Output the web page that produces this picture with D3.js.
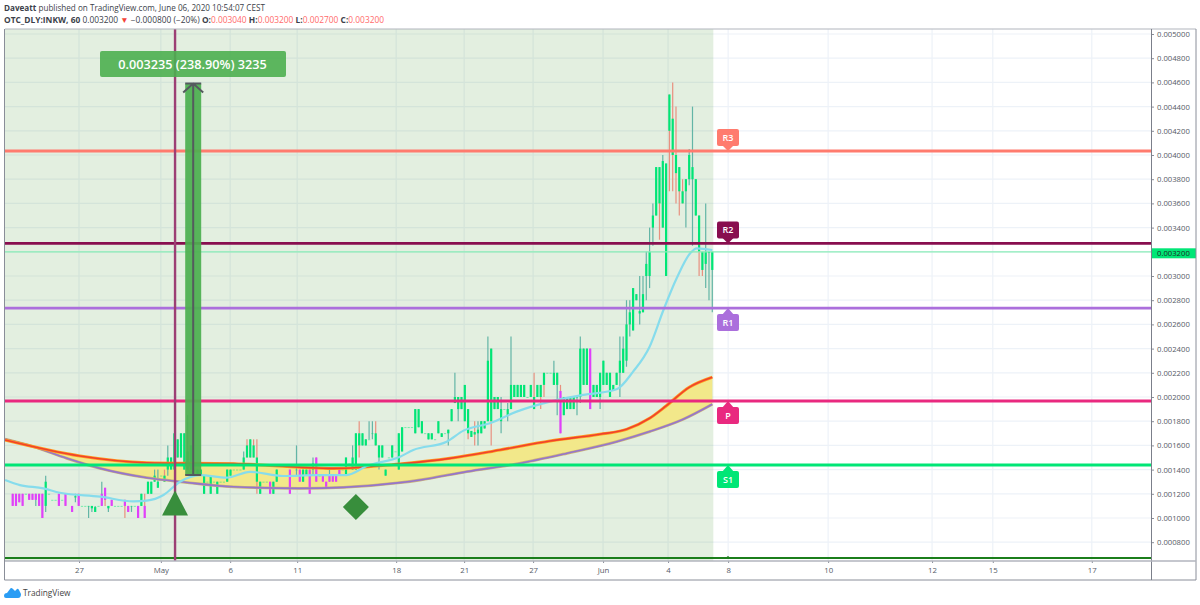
<!DOCTYPE html>
<html>
<head>
  <meta charset="utf-8">
  <script src="https://d3js.org/d3.v7.min.js"></script>
  <style>
    html, body { margin: 0; padding: 0; background: #fff; }
    text { font-family: "Open Sans", "Noto Sans", sans-serif; }
  </style>
</head>
<body>
  <svg id="chart"></svg>
  <script>
    // prices are in millionths, bars are [open, close, low, high, signal]
    var aprilBars = [
      [1200,1100,1100,1200,1],[1200,1100,1100,1200,1],[1200,1130,1130,1200,1],[1200,1100,1100,1200,1],[1200,1200,1200,1200],
      [1200,1150,1150,1200,1],[1200,1150,1150,1200,1],[1150,1200,1100,1200,1],[1200,1100,1100,1200,1],[1200,1000,1000,1200,1],
      [1100,1300,1050,1350],[1200,1200,1200,1200],[1150,1150,1150,1150],[1150,1150,1150,1150],[1200,1100,1100,1200,1],
      [1150,1150,1150,1150],[1200,1100,1100,1200,1],[1200,1200,1200,1200],[1100,1050,1050,1100,1],[1170,1180,1130,1200],
      [1200,1100,1100,1200,1],[1100,1100,1100,1100],[1100,1100,1100,1100],[1100,1100,1000,1100],[1080,1100,1050,1100],
      [1050,1090,1050,1100],[1100,1100,1100,1100],[1100,1200,1100,1300,1],[1250,1150,1100,1250,1],[1080,1100,1050,1100],
      [1150,1100,1100,1150,1],[1100,1100,1100,1100],[1100,1100,1100,1100],[1100,1100,1100,1100],[1150,1100,1000,1150,1],
      [1100,1050,1050,1100,1],[1100,1100,1050,1100],[1100,1100,1100,1100],[1100,1000,1000,1100,1],[1100,1200,1100,1200],
      [1100,1000,1000,1200,1],[1200,1300,1200,1300],[1200,1300,1200,1300],[1300,1350,1300,1400],[1250,1300,1250,1400]
    ];
    var mayBars = [
      [1350,1350,1350,1350],[1350,1300,1300,1400],[1400,1500,1350,1600],[1400,1500,1400,1500],[1400,1700,1400,1700],
      [1650,1500,1500,1650],[1500,1700,1500,1700],[1400,1700,1400,1700],[1400,1550,1400,1850],[1400,1600,1400,1600],
      [1400,1400,1400,1400],[1350,1400,1350,1400],[1350,1400,1350,1400],[1200,1350,1200,1350],[1300,1300,1300,1300],
      [1200,1350,1200,1350],[1300,1300,1300,1300],[1200,1300,1200,1300],[1300,1300,1300,1300],[1300,1300,1300,1300],
      [1300,1400,1300,1400],[1350,1400,1350,1400],[1400,1400,1400,1400],[1400,1400,1400,1400],[1400,1400,1400,1400],
      [1400,1500,1400,1550],[1600,1500,1500,1650],[1650,1500,1500,1650],[1600,1500,1500,1650],[1500,1300,1200,1650],
      [1200,1300,1200,1300],[1300,1300,1300,1300],[1300,1300,1300,1300],[1300,1200,1200,1300,1],[1200,1300,1200,1300],
      [1300,1400,1300,1400],[1350,1350,1350,1350],[1350,1350,1350,1350],[1350,1350,1350,1350],[1400,1200,1200,1400,1],
      [1350,1350,1350,1350],[1400,1400,1350,1600],[1400,1300,1300,1400,1],[1300,1400,1300,1400],[1350,1400,1350,1400],
      [1400,1200,1200,1400,1],[1400,1450,1350,1500],[1500,1300,1300,1500,1],[1350,1350,1350,1350],[1350,1300,1300,1350,1],
      [1300,1250,1250,1300,1],[1300,1350,1300,1400,1],[1350,1300,1300,1350,1],[1350,1300,1300,1350,1],[1400,1350,1350,1400,1],
      [1400,1400,1400,1400],[1350,1500,1350,1500],[1450,1450,1450,1450],[1400,1500,1400,1600],[1400,1700,1400,1700],
      [1700,1600,1500,1800],[1600,1700,1600,1700],[1600,1650,1600,1650],[1650,1650,1650,1800],[1700,1700,1650,1800],
      [1700,1600,1600,1800],[1500,1600,1400,1600],[1500,1600,1500,1600],[1350,1400,1350,1400],[1500,1500,1500,1500],
      [1500,1600,1500,1600],[1550,1550,1550,1550],[1400,1700,1400,1700],[1550,1750,1550,1750],[1750,1750,1750,1750],
      [1750,1750,1750,1750],[1750,1750,1750,1750],[1700,1900,1700,1900],[1750,1900,1750,1900],[1700,1800,1700,1800],
      [1700,1700,1700,1700],[1650,1700,1650,1700],[1650,1700,1650,1700],[1650,1650,1650,1650],[1700,1800,1700,1800],
      [1670,1700,1670,1700],[1700,1700,1700,1700],[1700,1730,1600,1730],[1800,1900,1800,1900],[1950,2000,1950,2200],
      [1900,2000,1800,2000],[1900,2000,1900,2000],[1800,2100,1800,2100],[1900,1700,1650,1900],[1670,1720,1670,1720],
      [1710,1690,1600,1800],[1700,1730,1600,1800],[1700,1800,1700,1800],[1740,1800,1740,1800],[1800,2300,1800,2500],
      [2400,1800,1600,2400],[1900,2000,1900,2000],[1900,2000,1900,2000],[1800,1900,1700,2000],[1900,1900,1900,1900],
      [1850,1900,1800,1950],[1900,2100,1900,2500],[2000,2100,2000,2100],[2000,2100,2000,2100],[2000,2100,2000,2100],
      [2000,2100,2000,2100],[2000,2000,2000,2000],[2000,2100,2000,2100],[2000,1900,1900,2200],[2000,2100,2000,2100],
      [2100,2000,1900,2100],[2200,2100,2000,2200],[2200,2200,2200,2200],[2200,2200,2200,2200],[2100,2200,2100,2300],
      [2100,2200,1850,2200],[2050,1700,1700,2100,1],[1850,2000,1850,2000],[1900,2000,1900,2000],[1900,2000,1900,2000],
      [1900,2000,1900,2000],[2000,2000,1850,2000],[2000,2400,1950,2500],[2100,2400,2100,2400],[2100,2400,2100,2400],
      [2400,1900,1900,2400,1],[2000,2100,2000,2100],[2000,2100,2000,2100],[2000,2200,1900,2200]
    ];
    var juneBars = [
      [2100,2300,2100,2300],[2100,2200,2100,2200],[2000,2200,2000,2200],[2050,2100,2050,2100],[2100,2200,2100,2200],
      [2200,2300,2000,2500],[2200,2400,2200,2500],[2300,2600,2250,2800],[2600,2700,2500,2800],[2550,2900,2550,2900],
      [2800,2850,2800,2850],[2690,2710,2600,3000],[2700,2850,2700,3000],[3000,3100,2800,3200],[3000,3200,2900,3400],
      [3400,3500,3250,3600],[3500,3900,3500,3900],[3900,3600,3300,3900],[3400,3950,3400,4000],[3000,3930,3000,3930],
      [4500,4200,3700,4500],[4300,4000,3700,4600],[4000,3850,3600,4400],[3900,3700,3500,3900],[3700,3600,3600,3800],
      [3700,3800,3400,3800],[3800,4000,3750,4050],[3800,3900,3250,4400],[3500,3800,3500,3800],[3500,3200,3000,3500],
      [3200,3050,3000,3200],[3100,3200,2900,3600],[3190,3200,2800,3200],[3050,3200,2700,3200]
    ];

    // slow average (red) and its lagging pair (purple), [bar, price]
    var upperBand = [[-2.3,1644],[20.4,1512],[40.6,1457],[66.9,1449],[97.2,1410],[117.4,1447],[132.5,1493],[147.6,1562],[162.8,1637],[177.9,1692],[186,1733],[193,1824],[198,1926],[205,2080],[212,2163]];
    var lowerBand = [[-2.3,1652],[6.3,1589],[16.4,1493],[26.5,1410],[40.6,1333],[51.7,1297],[66.9,1258],[87,1245],[100.2,1253],[117.4,1292],[123.4,1314],[137.6,1383],[152.7,1447],[168,1535],[183,1631],[193,1714],[203.2,1816],[212,1940]];
    var fastLine = [[-2.3,1314],[2.2,1272],[9.3,1245],[14.3,1209],[26.5,1176],[36.6,1137],[40.6,1143],[45.7,1190],[50.7,1300],[56.8,1355],[64.8,1333],[71.9,1382],[82,1347],[92.1,1355],[101.2,1355],[107.3,1429],[117.4,1507],[121.4,1562],[131.5,1631],[136.6,1722],[144.6,1783],[152.7,1879],[162.8,1962],[172.9,2017],[183,2064],[188,2210],[193,2416],[197.2,2719],[201.2,2981],[205.3,3188],[207.3,3229],[212,3215]];

    var levelNames = ["R3", "R2", "R1", "P", "S1", ""];
    var levelPrices = [4033, 3269, 2735, 1967, 1438, 670];
    var levelColors = ["#ff7b6e", "#880e4f", "#ab6fdc", "#e9297f", "#00e676", "#1b7e1b"];
    var levelFlagUp = [false, false, true, true, true, true];

    var priceTicks = [5000,4800,4600,4400,4200,4000,3800,3600,3400,3200,3000,2800,2600,2400,2200,2000,1800,1600,1400,1200,1000,800];
    var timeTickBars = [20.1,44.9,65.9,86.2,116.2,136.8,157.7,178.9,198.6,216.8,247.1,278.6,297,327];
    var timeTickLabels = ["27","May","6","11","18","21","27","Jun","4","8","10","12","15","17"];

    var lastPrice = 3200;
    var signalBar = 49.2;
    var arrowFrom = [54.7, 1355];
    var arrowTo = [54.7, 4590];
    var arrowLabel = "0.003235 (238.90%) 3235";
    var triangleMark = [49.2, 1120];
    var diamondMark = [104, 1090];

    var bars = aprilBars.concat(mayBars, juneBars);

    var width = 1200, height = 605;
    var plot = { left: 5, right: 1151, top: 29, bottom: 561 };
    var outerRight = 1196, outerBottom = 580;

    var xScale = d3.scaleLinear().domain([-2.33, 344.94]).range([plot.left, plot.right]);
    var yScale = d3.scaleLinear().domain([800, 5000]).range([542.2, 34]);

    var svg = d3.select("#chart").attr("width", width).attr("height", height)
                .style("display", "block");

    // header
    var head = svg.append("g").attr("fill", "#3c3f4a");
    var line1 = head.append("text").attr("x", 4).attr("y", 10.5).attr("font-size", 8.15);
    line1.append("tspan").attr("font-weight", 700).text("Daveatt");
    line1.append("tspan").text(" published on TradingView.com, June 06, 2020 10:54:07 CEST");
    var line2 = head.append("text").attr("x", 4).attr("y", 23).attr("font-size", 8.4);
    line2.append("tspan").attr("font-weight", 700).text("OTC_DLY:INKW, 60");
    line2.append("tspan").text(" 0.003200 ");
    line2.append("tspan").attr("fill", "#f44336").text("▼");
    line2.append("tspan").text(" −0.000800 (−20%) ");
    [["O:", "0.003040"], ["H:", "0.003200"], ["L:", "0.002700"], ["C:", "0.003200"]].forEach(function(d, i) {
      line2.append("tspan").attr("font-weight", 700).text((i ? " " : "") + d[0]);
      line2.append("tspan").attr("fill", "#ff6b6b").text(d[1]);
    });

    // grid
    var grid = svg.append("g").attr("stroke", "#edf2f8").attr("stroke-width", 1.2);
    grid.selectAll("line.h").data(priceTicks).enter().append("line")
        .attr("x1", plot.left).attr("x2", plot.right)
        .attr("y1", yScale).attr("y2", yScale);
    grid.selectAll("line.v").data(timeTickBars).enter().append("line")
        .attr("x1", xScale).attr("x2", xScale)
        .attr("y1", plot.top).attr("y2", plot.bottom);

    // shaded session up to the last bar
    svg.append("rect")
       .attr("x", plot.left).attr("y", plot.top)
       .attr("width", xScale(bars.length - 1) + 1 - plot.left)
       .attr("height", plot.bottom - plot.top)
       .attr("fill", "#4f9a3c").attr("fill-opacity", 0.16);

    var line = d3.line()
                 .x(function(d) { return xScale(d[0]); })
                 .y(function(d) { return yScale(d[1]); })
                 .curve(d3.curveMonotoneX);

    // band fill
    var bandD = line(upperBand) + "L" + line(lowerBand.slice().reverse()).slice(1) + "Z";
    svg.append("path").attr("d", bandD).attr("fill", "#f2e88a");

    // bars
    var barG = svg.append("g");
    barG.selectAll("line.wick").data(bars).enter().append("line")
        .attr("x1", function(d, i) { return xScale(i); })
        .attr("x2", function(d, i) { return xScale(i); })
        .attr("y1", function(d) { return yScale(d[3]); })
        .attr("y2", function(d) { return yScale(d[2]); })
        .attr("stroke", function(d) { return d[1] < d[0] ? "#e8907f" : "#63b5a6"; })
        .attr("stroke-width", 1.2);
    barG.selectAll("rect.body").data(bars).enter().append("rect")
        .attr("x", function(d, i) { return xScale(i) - 1.1; })
        .attr("width", 2.2)
        .attr("y", function(d) { return yScale(Math.max(d[0], d[1])); })
        .attr("height", function(d) { return Math.max(0.8, Math.abs(yScale(d[0]) - yScale(d[1]))); })
        .attr("fill", function(d) { return d[4] ? "#e040fb" : "#00e676"; })
        .attr("fill-opacity", function(d) { return d[0] === d[1] ? 0.6 : 1; });

    // band outlines and fast average
    svg.append("path").attr("d", line(lowerBand)).attr("fill", "none").attr("stroke", "#c9b27a").attr("stroke-width", 2.8);
    svg.append("path").attr("d", line(lowerBand)).attr("fill", "none").attr("stroke", "#9575cd").attr("stroke-width", 1.6);
    svg.append("path").attr("d", line(upperBand)).attr("fill", "none").attr("stroke", "#ff9a1f").attr("stroke-width", 3);
    svg.append("path").attr("d", line(upperBand)).attr("fill", "none").attr("stroke", "#f0412d").attr("stroke-width", 1.6);
    svg.append("path").attr("d", line(fastLine)).attr("fill", "none").attr("stroke", "#86dcec").attr("stroke-width", 2.2);

    // last price
    svg.append("line")
       .attr("x1", plot.left).attr("x2", plot.right)
       .attr("y1", yScale(lastPrice)).attr("y2", yScale(lastPrice))
       .attr("stroke", "#8aedb8").attr("stroke-width", 1.3);

    // pivot levels
    svg.selectAll("line.level").data(levelPrices).enter().append("line")
       .attr("x1", plot.left).attr("x2", plot.right)
       .attr("y1", yScale).attr("y2", yScale)
       .attr("stroke", function(d, i) { return levelColors[i]; })
       .attr("stroke-width", function(d, i) { return i === 5 ? 2 : 2.8; });

    // level flags, pointing at the line
    var flagX = 728, flagW = 22, flagH = 17, flagTip = 4;
    levelPrices.forEach(function(p, i) {
      var y = yScale(p), up = levelFlagUp[i];
      if (!levelNames[i]) {
        svg.append("path").attr("d", "M" + (flagX - 4) + " " + (y + 1) + "L" + flagX + " " + (y - 2) + "L" + (flagX + 4) + " " + (y + 1) + "Z")
           .attr("fill", levelColors[i]);
        return;
      }
      var top = up ? y + flagTip + 2 : y - flagTip - flagH - 1;
      var g = svg.append("g");
      g.append("rect").attr("x", flagX - flagW / 2).attr("y", top).attr("width", flagW).attr("height", flagH)
       .attr("rx", 2).attr("fill", levelColors[i]);
      g.append("path").attr("fill", levelColors[i])
       .attr("d", "M" + (flagX - 6) + " " + (up ? top + 1 : top + flagH - 1) + "L" + flagX + " " + y + "L" + (flagX + 6) + " " + (up ? top + 1 : top + flagH - 1) + "Z");
      g.append("text").attr("x", flagX).attr("y", top + 12).attr("text-anchor", "middle")
       .attr("font-size", 9).attr("font-weight", 600).attr("fill", "#fff").text(levelNames[i]);
    });

    // vertical signal line
    svg.append("line")
       .attr("x1", xScale(signalBar)).attr("x2", xScale(signalBar))
       .attr("y1", plot.top).attr("y2", plot.bottom)
       .attr("stroke", "#9c3f74").attr("stroke-width", 2.4);

    // price range tool
    var ax = xScale(arrowFrom[0]), ay0 = yScale(arrowFrom[1]), ay1 = yScale(arrowTo[1]);
    svg.append("rect").attr("x", ax - 8).attr("y", ay1).attr("width", 16).attr("height", ay0 - ay1)
       .attr("fill", "#4caf50").attr("fill-opacity", 0.93);
    svg.append("path")
       .attr("d", "M" + ax + " " + ay0 + "V" + ay1 + "M" + (ax - 10) + " " + (ay1 + 9) + "L" + ax + " " + ay1 + "L" + (ax + 10) + " " + (ay1 + 9)
                + "M" + (ax - 8) + " " + ay1 + "H" + (ax + 8) + "M" + (ax - 8) + " " + ay0 + "H" + (ax + 8))
       .attr("fill", "none").attr("stroke", "#555a5e").attr("stroke-width", 2);
    svg.append("rect").attr("x", 100).attr("y", 51).attr("width", 186).attr("height", 26).attr("rx", 2)
       .attr("fill", "#4caf50").attr("fill-opacity", 0.9);
    svg.append("text").attr("x", 192.5).attr("y", 68.5).attr("text-anchor", "middle")
       .attr("font-size", 12.7).attr("font-weight", 600).attr("fill", "#fff").text(arrowLabel);

    // markers
    svg.append("path")
       .attr("transform", "translate(" + xScale(triangleMark[0]) + "," + yScale(triangleMark[1]) + ")")
       .attr("d", "M0 -13L13 12H-13Z").attr("fill", "#388e3c");
    svg.append("path")
       .attr("transform", "translate(" + xScale(diamondMark[0]) + "," + yScale(diamondMark[1]) + ")")
       .attr("d", "M0 -13L13 0L0 13L-13 0Z").attr("fill", "#388e3c");

    // axes
    var yAxis = d3.axisRight(yScale).tickValues(priceTicks).tickSize(3).tickPadding(3)
                  .tickFormat(function(d) { return (d / 1e6).toFixed(6); });
    var yG = svg.append("g").attr("transform", "translate(" + plot.right + ",0)").call(yAxis);
    yG.select(".domain").remove();
    yG.selectAll(".tick line").attr("stroke", "#8a8e99");
    yG.selectAll("text").attr("font-size", 7.7).attr("fill", "#555a66").style("font-family", "'Open Sans', sans-serif");

    var xAxis = d3.axisBottom(xScale).tickValues(timeTickBars).tickSize(2).tickPadding(4)
                  .tickFormat(function(d, i) { return timeTickLabels[i]; });
    var xG = svg.append("g").attr("transform", "translate(0," + plot.bottom + ")").call(xAxis);
    xG.select(".domain").remove();
    xG.selectAll(".tick line").attr("stroke", "#8a8e99");
    xG.selectAll("text").attr("font-size", 7.8).attr("fill", "#555a66").style("font-family", "'Open Sans', sans-serif");

    // last price tag
    svg.append("rect").attr("x", plot.right + 1).attr("y", yScale(lastPrice) - 3.5).attr("width", outerRight - plot.right - 1).attr("height", 10)
       .attr("fill", "#00e676");
    svg.append("text").attr("x", plot.right + 6).attr("y", yScale(lastPrice) + 4)
       .attr("font-size", 7.7).attr("fill", "#1d2b24").text((lastPrice / 1e6).toFixed(6));

    // frame
    var frame = svg.append("g").attr("fill", "none");
    frame.append("path").attr("d", "M" + plot.left + " " + plot.top + "H" + outerRight).attr("stroke", "#b2b5be").attr("stroke-width", 1.2);
    frame.append("path").attr("d", "M" + (plot.left - 0.5) + " " + plot.top + "V" + outerBottom + "H" + outerRight + "V" + plot.top).attr("stroke", "#8a8e99").attr("stroke-width", 1);
    frame.append("path").attr("d", "M" + (plot.right + 0.5) + " " + plot.top + "V" + outerBottom).attr("stroke", "#7b7f8a").attr("stroke-width", 1);
    frame.append("path").attr("d", "M" + plot.left + " " + plot.bottom + "H" + outerRight).attr("stroke", "#b2b5be").attr("stroke-width", 1.4);

    // logo
    var logo = svg.append("g").attr("transform", "translate(4,587)");
    logo.append("path").attr("fill", "#2a9df4")
        .attr("d", "M0 9 Q0 6 3 6 L6 2 Q7 0 9 2 L11 4 L13 2 Q14 1 15 3 L17 7 Q17 11 14 11 L2 11 Q0 11 0 9Z");
    svg.append("text").attr("x", 23).attr("y", 595.5).attr("font-size", 8.3).attr("fill", "#444").text("TradingView");
  </script>
</body>
</html>
